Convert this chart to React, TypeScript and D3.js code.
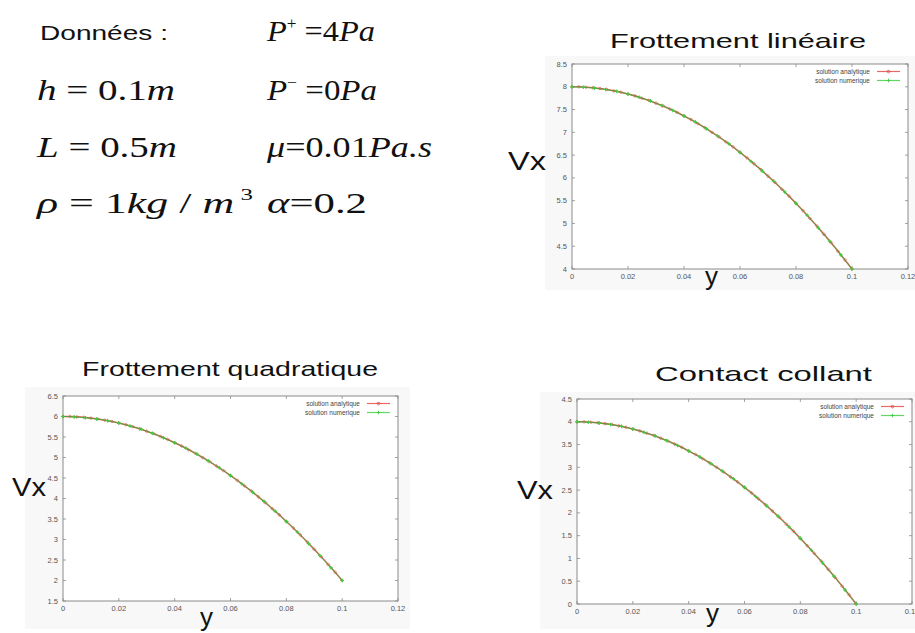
import React from "react";
import * as d3 from "d3";

// positions along the channel height (m)
const yAnalytic = [
  0, 0.0025, 0.005, 0.0075, 0.01, 0.0125, 0.015, 0.0175, 0.02, 0.0225, 0.025, 0.0275, 0.03, 0.0325,
  0.035, 0.0375, 0.04, 0.0425, 0.045, 0.0475, 0.05, 0.0525, 0.055, 0.0575, 0.06, 0.0625, 0.065,
  0.0675, 0.07, 0.0725, 0.075, 0.0775, 0.08, 0.0825, 0.085, 0.0875, 0.09, 0.0925, 0.095, 0.0975, 0.1,
];
const yNumeric = [
  0, 0.004, 0.008, 0.012, 0.016, 0.02, 0.024, 0.028, 0.032, 0.036, 0.04, 0.044, 0.048, 0.052, 0.056,
  0.06, 0.064, 0.068, 0.072, 0.076, 0.08, 0.084, 0.088, 0.092, 0.096, 0.1,
];

const lineaireAnalytique = [
  8, 8, 7.99, 7.98, 7.96, 7.94, 7.91, 7.88, 7.84, 7.8, 7.75, 7.7, 7.64, 7.58, 7.51, 7.44, 7.36, 7.28,
  7.19, 7.1, 7.0, 6.9, 6.79, 6.68, 6.56, 6.44, 6.31, 6.18, 6.04, 5.9, 5.75, 5.6, 5.44, 5.28, 5.11, 4.94,
  4.76, 4.58, 4.39, 4.2, 4.0,
];
const lineaireNumerique = [
  8, 7.99, 7.97, 7.94, 7.9, 7.84, 7.77, 7.69, 7.59, 7.48, 7.36, 7.23, 7.08, 6.92, 6.75, 6.56, 6.36,
  6.15, 5.93, 5.69, 5.44, 5.18, 4.9, 4.61, 4.31, 4.0,
];
const quadratiqueAnalytique = [
  6, 6, 5.99, 5.98, 5.96, 5.94, 5.91, 5.88, 5.84, 5.8, 5.75, 5.7, 5.64, 5.58, 5.51, 5.44, 5.36, 5.28,
  5.19, 5.1, 5.0, 4.9, 4.79, 4.68, 4.56, 4.44, 4.31, 4.18, 4.04, 3.9, 3.75, 3.6, 3.44, 3.28, 3.11, 2.94,
  2.76, 2.58, 2.39, 2.2, 2.0,
];
const quadratiqueNumerique = [
  6, 5.99, 5.97, 5.94, 5.9, 5.84, 5.77, 5.69, 5.59, 5.48, 5.36, 5.23, 5.08, 4.92, 4.75, 4.56, 4.36,
  4.15, 3.93, 3.69, 3.44, 3.18, 2.9, 2.61, 2.31, 2.0,
];
const collantAnalytique = [
  4, 4, 3.99, 3.98, 3.96, 3.94, 3.91, 3.88, 3.84, 3.8, 3.75, 3.7, 3.64, 3.58, 3.51, 3.44, 3.36, 3.28,
  3.19, 3.1, 3.0, 2.9, 2.79, 2.68, 2.56, 2.44, 2.31, 2.18, 2.04, 1.9, 1.75, 1.6, 1.44, 1.28, 1.11, 0.94,
  0.76, 0.58, 0.39, 0.2, 0,
];
const collantNumerique = [
  4, 3.99, 3.97, 3.94, 3.9, 3.84, 3.77, 3.69, 3.59, 3.48, 3.36, 3.23, 3.08, 2.92, 2.75, 2.56, 2.36,
  2.15, 1.93, 1.69, 1.44, 1.18, 0.9, 0.61, 0.31, 0,
];

const xTicks = [0, 0.02, 0.04, 0.06, 0.08, 0.1, 0.12];
const legendLabels = ["solution analytique", "solution numerique"];

const RED = "#e0443c";
const GREEN = "#3ccc3c";
const FRAME = "#8a8a8a";
const TICK_TXT = "#555";

const Plot = ({ box, bg, yDomain, yStep, analytic, numeric, title, titleBox, vxBox, yLabelX, yLabelY }) => {
  const { left, right, top, bottom } = box;
  const x = d3.scaleLinear().domain([0, 0.12]).range([left, right]);
  const y = d3.scaleLinear().domain(yDomain).range([bottom, top]);
  const yTicks = d3.range(yDomain[0], yDomain[1] + yStep / 2, yStep);

  const lineA = d3
    .line<number>()
    .x((d, i) => x(yAnalytic[i]))
    .y((d) => y(d));
  const lineN = d3
    .line<number>()
    .x((d, i) => x(yNumeric[i]))
    .y((d) => y(d));

  const diamond = (cx, cy, s) => `M${cx},${cy - s}L${cx + s},${cy}L${cx},${cy + s}L${cx - s},${cy}Z`;
  const plus = (cx, cy, s) => `M${cx - s},${cy}H${cx + s}M${cx},${cy - s}V${cy + s}`;

  const tl = 3;
  const legX1 = right - 31;
  const legX2 = right - 8;

  return (
    <g>
      <rect x={bg[0]} y={bg[1]} width={bg[2]} height={bg[3]} fill="#f8f8f8" />
      <rect x={left} y={top} width={right - left} height={bottom - top} fill="#fff" />

      {/* ticks, gnuplot style: inward, mirrored */}
      {xTicks.map((t) => (
        <g key={"x" + t}>
          <line x1={x(t)} x2={x(t)} y1={bottom} y2={bottom - tl} stroke={FRAME} strokeWidth={0.8} />
          <line x1={x(t)} x2={x(t)} y1={top} y2={top + tl} stroke={FRAME} strokeWidth={0.8} />
          <text x={x(t)} y={bottom + 10} fontSize={7.5} fill={TICK_TXT} textAnchor="middle" fontFamily="Liberation Sans, Arial, sans-serif">
            {d3.format("")(+t.toFixed(2))}
          </text>
        </g>
      ))}
      {yTicks.map((t) => (
        <g key={"y" + t}>
          <line x1={left} x2={left + tl} y1={y(t)} y2={y(t)} stroke={FRAME} strokeWidth={0.8} />
          <line x1={right} x2={right - tl} y1={y(t)} y2={y(t)} stroke={FRAME} strokeWidth={0.8} />
          <text x={left - 5} y={y(t) + 2.5} fontSize={7.5} fill={TICK_TXT} textAnchor="end" fontFamily="Liberation Sans, Arial, sans-serif">
            {+t.toFixed(1)}
          </text>
        </g>
      ))}
      <rect x={left} y={top} width={right - left} height={bottom - top} fill="none" stroke={FRAME} strokeWidth={1} />

      {/* analytic solution */}
      <path d={lineA(analytic)} fill="none" stroke={RED} strokeWidth={1.6} strokeOpacity={0.75} />
      {analytic.map((v, i) => (
        <path key={"a" + i} d={diamond(x(yAnalytic[i]), y(v), 1.6)} fill="none" stroke={RED} strokeWidth={0.7} strokeOpacity={0.8} />
      ))}
      {/* numeric solution */}
      <path d={lineN(numeric)} fill="none" stroke={GREEN} strokeWidth={1} strokeOpacity={0.8} />
      <path d={lineA(analytic)} fill="none" stroke="#6a6030" strokeWidth={0.6} strokeOpacity={0.7} />
      {numeric.map((v, i) => (
        <path key={"n" + i} d={plus(x(yNumeric[i]), y(v), 1.8)} fill="none" stroke={GREEN} strokeWidth={1.2} />
      ))}

      {/* legend */}
      {legendLabels.map((lab, i) => {
        const ly = top + 7.5 + i * 9;
        const col = i === 0 ? RED : GREEN;
        const mx = (legX1 + legX2) / 2;
        return (
          <g key={lab}>
            <text x={legX1 - 7} y={ly + 2.3} fontSize={6.5} fill="#444" textAnchor="end" fontFamily="Liberation Sans, Arial, sans-serif">
              {lab}
            </text>
            <line x1={legX1} x2={legX2} y1={ly} y2={ly} stroke={col} strokeWidth={1.2} strokeOpacity={0.8} />
            <path d={i === 0 ? diamond(mx, ly, 1.6) : plus(mx, ly, 1.8)} fill="none" stroke={col} strokeWidth={0.9} />
          </g>
        );
      })}

      <text x={titleBox[0]} y={titleBox[1]} fontSize={21} textLength={titleBox[2]} lengthAdjust="spacingAndGlyphs" fontFamily="Liberation Sans, Arial, sans-serif" fill="#111">
        {title}
      </text>
      <text x={vxBox[0]} y={vxBox[1]} fontSize={25} textLength={vxBox[2]} lengthAdjust="spacingAndGlyphs" fontFamily="Liberation Sans, Arial, sans-serif" fill="#111">
        Vx
      </text>
      <text x={yLabelX} y={yLabelY} fontSize={26} fontFamily="Liberation Sans, Arial, sans-serif" fill="#111">
        y
      </text>
    </g>
  );
};

const serif = "Liberation Serif, Times New Roman, serif";

const App = () => {
  return (
    <svg width={915} height={633} style={{ position: "absolute", left: 0, top: 0, background: "#fff" }}>
      {/* parameters */}
      <text x={40} y={40} fontSize={21} textLength={128} lengthAdjust="spacingAndGlyphs" fontFamily="Liberation Sans, Arial, sans-serif" fill="#111">
        Données :
      </text>
      <g fontFamily={serif} fontSize={30} fill="#111">
        <text x={267} y={41} textLength={108} lengthAdjust="spacingAndGlyphs">
          <tspan fontStyle="italic">P</tspan>
          <tspan fontSize={16} dy={-12}>+</tspan>
          <tspan dy={12}> =4</tspan>
          <tspan fontStyle="italic">Pa</tspan>
        </text>
        <text x={37} y={100} textLength={138} lengthAdjust="spacingAndGlyphs">
          <tspan fontStyle="italic">h</tspan>
          <tspan> = 0.1</tspan>
          <tspan fontStyle="italic">m</tspan>
        </text>
        <text x={267} y={100} textLength={110} lengthAdjust="spacingAndGlyphs">
          <tspan fontStyle="italic">P</tspan>
          <tspan fontSize={16} dy={-12}>−</tspan>
          <tspan dy={12}> =0</tspan>
          <tspan fontStyle="italic">Pa</tspan>
        </text>
        <text x={37} y={157} textLength={140} lengthAdjust="spacingAndGlyphs">
          <tspan fontStyle="italic">L</tspan>
          <tspan> = 0.5</tspan>
          <tspan fontStyle="italic">m</tspan>
        </text>
        <text x={267} y={157} textLength={165} lengthAdjust="spacingAndGlyphs">
          <tspan fontStyle="italic">μ</tspan>
          <tspan>=0.01</tspan>
          <tspan fontStyle="italic">Pa.s</tspan>
        </text>
        <text x={37} y={213} textLength={216} lengthAdjust="spacingAndGlyphs">
          <tspan fontStyle="italic">ρ</tspan>
          <tspan> = 1</tspan>
          <tspan fontStyle="italic">kg</tspan>
          <tspan> / </tspan>
          <tspan fontStyle="italic">m</tspan>
          <tspan fontSize={17} dy={-13}> 3</tspan>
        </text>
        <text x={267} y={213} textLength={100} lengthAdjust="spacingAndGlyphs">
          <tspan fontStyle="italic">α</tspan>
          <tspan>=0.2</tspan>
        </text>
      </g>

      <Plot
        box={{ left: 572, right: 908, top: 64, bottom: 269 }}
        bg={[545, 56, 370, 234]}
        yDomain={[4, 8.5]}
        yStep={0.5}
        analytic={lineaireAnalytique}
        numeric={lineaireNumerique}
        title="Frottement linéaire"
        titleBox={[610, 48, 256]}
        vxBox={[508, 170, 38]}
        yLabelX={705}
        yLabelY={285}
      />
      <Plot
        box={{ left: 63, right: 398, top: 396, bottom: 601 }}
        bg={[25, 387, 385, 242]}
        yDomain={[1.5, 6.5]}
        yStep={0.5}
        analytic={quadratiqueAnalytique}
        numeric={quadratiqueNumerique}
        title="Frottement quadratique"
        titleBox={[82, 376, 296]}
        vxBox={[12, 496, 34]}
        yLabelX={200}
        yLabelY={626}
      />
      <Plot
        box={{ left: 577, right: 912, top: 399, bottom: 604 }}
        bg={[540, 392, 375, 237]}
        yDomain={[0, 4.5]}
        yStep={0.5}
        analytic={collantAnalytique}
        numeric={collantNumerique}
        title="Contact collant"
        titleBox={[655, 381, 217]}
        vxBox={[517, 499, 36]}
        yLabelX={706}
        yLabelY={622}
      />
    </svg>
  );
};

export default App;
